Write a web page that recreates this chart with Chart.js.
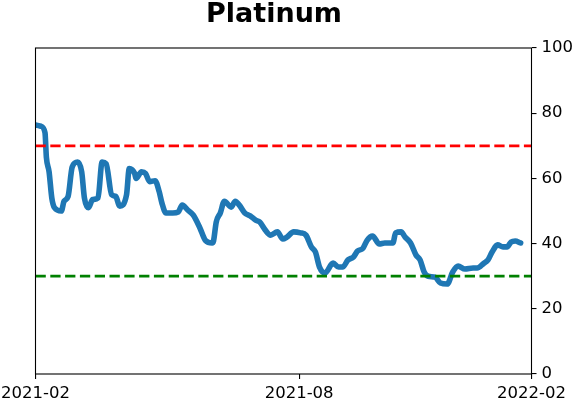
<!DOCTYPE html>
<html>
<head>
<meta charset="utf-8">
<script src="https://cdn.jsdelivr.net/npm/chart.js@4/dist/chart.umd.min.js"></script>
<style>
  html, body { margin: 0; padding: 0; background: #fff; }
  #wrap { width: 572px; height: 402px; }
</style>
</head>
<body>
<div id="wrap"><canvas id="platChart" width="572" height="402"></canvas></div>
<script>
// Platinum reading, dates and values
const dates = [
  '2021-02-01','2021-02-05','2021-02-08','2021-02-09','2021-02-11','2021-02-13','2021-02-15','2021-02-20',
  '2021-02-22','2021-02-25','2021-02-28','2021-03-04','2021-03-07','2021-03-09','2021-03-12','2021-03-15',
  '2021-03-19','2021-03-22','2021-03-25','2021-03-29','2021-04-01','2021-04-04','2021-04-09','2021-04-11',
  '2021-04-15','2021-04-16','2021-04-20','2021-04-23','2021-04-26','2021-04-30','2021-05-03','2021-05-05',
  '2021-05-08','2021-05-13','2021-05-17','2021-05-20','2021-05-24','2021-05-28','2021-06-02','2021-06-06',
  '2021-06-11','2021-06-12','2021-06-14','2021-06-17','2021-06-20','2021-06-25','2021-06-28','2021-07-01',
  '2021-07-05','2021-07-09','2021-07-13','2021-07-16','2021-07-20','2021-07-24','2021-07-29','2021-08-02',
  '2021-08-05','2021-08-10','2021-08-15','2021-08-19','2021-08-23','2021-08-26','2021-08-29','2021-09-02',
  '2021-09-08','2021-09-12','2021-09-15','2021-09-19','2021-09-23','2021-09-26','2021-09-30','2021-10-03',
  '2021-10-07','2021-10-12','2021-10-16','2021-10-22','2021-10-24','2021-10-28','2021-10-31','2021-11-04',
  '2021-11-08','2021-11-11','2021-11-14','2021-11-17','2021-11-22','2021-11-26','2021-12-01','2021-12-05',
  '2021-12-09','2021-12-14','2021-12-20','2021-12-23','2021-12-28','2021-12-31','2022-01-03','2022-01-07',
  '2022-01-11','2022-01-14','2022-01-17','2022-01-20','2022-01-24'
];
const values = [
  76.4, 76, 74, 66.5, 62, 54, 51, 50,
  53, 54.5, 63.5, 65, 62, 54, 51, 53.5,
  54, 65, 64.5, 55, 54.5, 51.5, 55, 63,
  61.5, 60, 62, 61.5, 59, 59.3, 56, 52.5,
  49.4, 49.4, 49.7, 51.8, 50.3, 48.8, 44.8, 41,
  40.2, 40.8, 46.6, 49.4, 53, 51.2, 53, 51.8,
  49.4, 48.5, 47.2, 46.6, 44.2, 42.6, 43.6, 41.4,
  42, 43.6, 43.3, 42.6, 39, 37.4, 32.8, 31,
  34, 32.8, 32.8, 35, 35.9, 37.7, 38.6, 41,
  42.3, 39.9, 40.2, 40.2, 43.3, 43.6, 42, 40.2,
  36.5, 35, 31.3, 30, 29.7, 27.9, 27.6, 31.3,
  33.1, 32.2, 32.5, 32.5, 34, 35, 37.4, 39.6,
  39, 39, 40.5, 40.8, 40.2
];
const upperLine = 70;
const lowerLine = 30;
const xStart = '2021-02-01';
const xEnd = '2022-02-01';
const tickDates = ['2021-02-01', '2021-08-14', '2022-02-01'];
const tickLabels = ['2021-02', '2021-08', '2022-02'];
const yTicks = [0, 20, 40, 60, 80, 100];

// days since start of axis
function toDay(s) {
  return (Date.parse(s) - Date.parse(xStart)) / 86400000;
}
const xMax = toDay(xEnd);
const tickDays = tickDates.map(toDay);

// box around the plot area + title
const framePlugin = {
  id: 'frame',
  afterDraw(chart) {
    const { ctx, chartArea: a } = chart;
    ctx.save();
    ctx.strokeStyle = '#000';
    ctx.lineWidth = 1.1;
    ctx.strokeRect(a.left, a.top, a.right - a.left, a.bottom - a.top);
    ctx.fillStyle = '#000';
    ctx.font = 'bold 27px "DejaVu Sans"';
    ctx.textAlign = 'center';
    ctx.textBaseline = 'alphabetic';
    ctx.fillText('Platinum', 274, 22);
    ctx.restore();
  }
};

const ctx = document.getElementById('platChart').getContext('2d');
const platChart = new Chart(ctx, {
  type: 'line',
  data: {
    datasets: [
      {
        data: [{ x: 0, y: upperLine }, { x: xMax, y: upperLine }],
        borderColor: '#ff0000',
        borderWidth: 2.8,
        borderDash: [10.3, 4.5],
        pointRadius: 0
      },
      {
        data: [{ x: 0, y: lowerLine }, { x: xMax, y: lowerLine }],
        borderColor: '#008000',
        borderWidth: 2.8,
        borderDash: [10.3, 4.5],
        pointRadius: 0
      },
      {
        data: dates.map((d, i) => ({ x: toDay(d), y: values[i] })),
        borderColor: '#1f77b4',
        borderWidth: 5.6,
        borderJoinStyle: 'round',
        borderCapStyle: 'round',
        pointRadius: 0,
        cubicInterpolationMode: 'monotone'
      }
    ]
  },
  options: {
    responsive: false,
    animation: false,
    devicePixelRatio: 1,
    layout: { padding: { left: 35.5, top: 48, right: 0, bottom: 0 } },
    plugins: {
      legend: { display: false },
      title: { display: false },
      tooltip: { enabled: false }
    },
    scales: {
      x: {
        type: 'linear',
        min: 0,
        max: xMax,
        afterBuildTicks: axis => { axis.ticks = tickDays.map(v => ({ value: v })); },
        afterFit: s => { s.height = 28; s.paddingLeft = 0; s.paddingRight = 0; },
        grid: { drawOnChartArea: false, drawTicks: true, tickLength: 5, color: '#000', lineWidth: 1.1 },
        border: { display: false },
        ticks: {
          autoSkip: false,
          maxRotation: 0,
          padding: 5,
          color: '#000',
          font: { family: 'DejaVu Sans', size: 16.5 },
          callback: v => tickLabels[tickDays.indexOf(v)]
        }
      },
      y: {
        position: 'right',
        min: 0,
        max: 100,
        afterBuildTicks: axis => { axis.ticks = yTicks.map(v => ({ value: v })); },
        afterFit: s => { s.width = 40.5; s.paddingTop = 0; s.paddingBottom = 0; },
        grid: { drawOnChartArea: false, drawTicks: true, tickLength: 5, color: '#000', lineWidth: 1.1 },
        border: { display: false },
        ticks: {
          padding: 5,
          color: '#000',
          font: { family: 'DejaVu Sans', size: 16.5 }
        }
      }
    }
  },
  plugins: [framePlugin]
});
</script>
</body>
</html>
